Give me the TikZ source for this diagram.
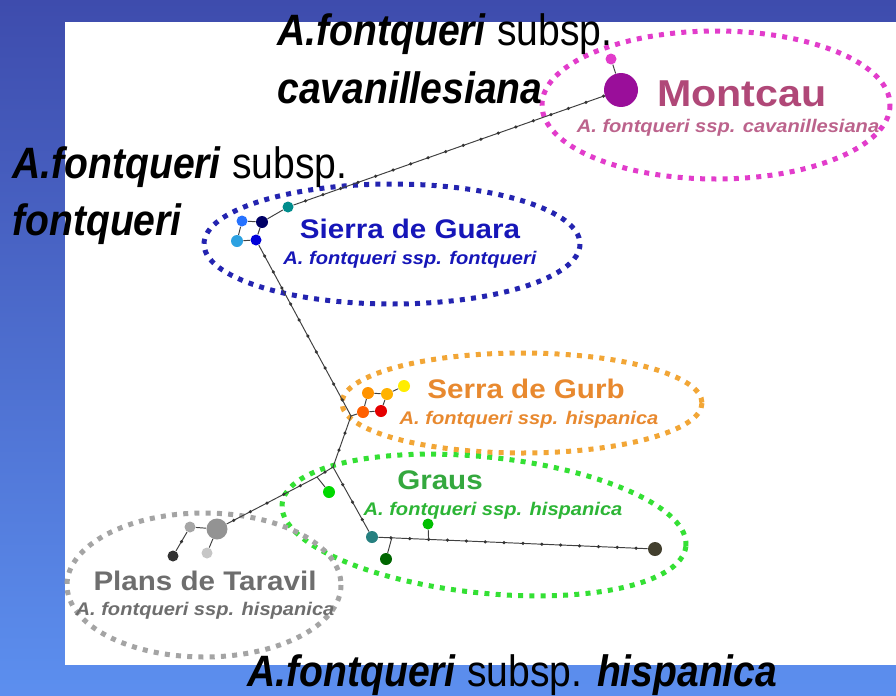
\documentclass[tikz,border=0pt]{standalone}
\usepackage{fontspec}
\setmainfont{Liberation Sans}
\newfontfamily\bigfont[FakeStretch=0.89]{Liberation Sans}
\newfontfamily\popfont[FakeStretch=1.1]{Liberation Sans}
\usetikzlibrary{calc}
\definecolor{bgtop}{HTML}{3E4CAD}
\definecolor{bgbot}{HTML}{5C8FEF}
\definecolor{montring}{HTML}{E23CCB}
\definecolor{montdot}{HTML}{9A0E9A}
\definecolor{monttext}{HTML}{B04878}
\definecolor{guararing}{HTML}{2424B0}
\definecolor{guaratext}{HTML}{1616B8}
\definecolor{gurbring}{HTML}{F2A636}
\definecolor{gurbtext}{HTML}{E8892F}
\definecolor{grausring}{HTML}{34E034}
\definecolor{graustext}{HTML}{34A83E}
\definecolor{plansring}{HTML}{A4A4A4}
\definecolor{planstext}{HTML}{6E6E6E}

\begin{document}
\begin{tikzpicture}
	[   x=0.02cm,y=-0.02cm,
		hap/.style={fill=#1,circle,inner sep=0pt,minimum size=2.2mm},
		ring/.style={draw=#1,line width=1mm,dash pattern=on 1mm off 1.25mm},
		popname/.style={text=#1,font=\popfont\bfseries\fontsize{15.3}{18}\selectfont,anchor=base,inner sep=0pt},
		popsub/.style={text=#1,font=\popfont\bfseries\itshape\fontsize{10.4}{12}\selectfont,anchor=base,inner sep=0pt},
		subsp/.style={font=\bigfont\fontsize{25}{30}\selectfont,anchor=base west,inner sep=0pt},
	]
	\tikzset{link/.style={draw=black!75,line width=0.55pt}}
	
	% background and slide
	\fill[top color=bgtop,bottom color=bgbot] (0,0) rectangle (896,695);
	\fill[white] (65,22) rectangle (896,665);
	
	% population rings
	\draw[ring=montring] (716,105) ellipse [x radius=174, y radius=74];
	\draw[ring=guararing] (392,244) ellipse [x radius=188, y radius=60];
	\draw[ring=gurbring] (522,403) ellipse [x radius=180, y radius=50];
	\draw[ring=grausring,rotate around={-6:(484,525)}] (484,525) ellipse [x radius=203, y radius=68];
	\draw[ring=plansring] (204,585) ellipse [x radius=137, y radius=72];
	
	% haplotypes
	\node[hap=montdot,minimum size=6.8mm] (mBig) at (621,90) {};
	\node[hap=montring] (mSmall) at (611,59) {};
	
	\node[hap=teal!90!cyan] (gTeal) at (288,207) {};
	\node[hap=blue!40!black,minimum size=2.4mm] (gNavy) at (262,222) {};
	\node[hap=blue!65!cyan!85!white] (gLight) at (242,221) {};
	\node[hap=cyan!80!blue!85!white,minimum size=2.4mm] (gCyan) at (237,241) {};
	\node[hap=blue!85!black] (gBlue) at (256,240) {};
	
	\node[hap=yellow!95!orange,minimum size=2.4mm] (sYel) at (404,386) {};
	\node[hap=orange!85!yellow,minimum size=2.4mm] (sLor) at (368,393) {};
	\node[hap=orange!60!yellow,minimum size=2.4mm] (sAmb) at (387,394) {};
	\node[hap=orange!75!red,minimum size=2.4mm] (sOred) at (363,412) {};
	\node[hap=red!90!black,minimum size=2.4mm] (sRed) at (381,411) {};
	
	\node[hap=green!85!black,minimum size=2.4mm] (grGreen) at (329,492) {};
	\node[hap=teal!70!gray,minimum size=2.4mm] (grTeal) at (372,537) {};
	\node[hap=green!40!black,minimum size=2.4mm] (grDark) at (386,559) {};
	\node[hap=green!75!black] (grMid) at (428,524) {};
	\node[hap=olive!30!black,minimum size=2.8mm] (grEnd) at (655,549) {};
	
	\node[hap=gray!85,minimum size=4.2mm] (pBig) at (217,529) {};
	\node[hap=gray!70] (pSmall) at (190,527) {};
	\node[hap=black!80] (pBlack) at (173,556) {};
	\node[hap=gray!45] (pLight) at (207,553) {};
	
	% median vectors
	\coordinate (jGurb) at (351,416);
	\coordinate (jA) at (333,467);
	\coordinate (jB) at (317,477);
	\coordinate (jC) at ($(grTeal)!0.07!(grEnd)$);
	\coordinate (jD) at ($(grTeal)!0.2!(grEnd)$);
	
	% branches with mutation steps
	\foreach \a/\b/\n in {mBig/gTeal/18,gBlue/jGurb/10,jGurb/jA/2,jA/jB/1,jB/pBig/5,jA/grTeal/3,grTeal/grEnd/14,pSmall/pBlack/1}
	{
		\path[link] (\a) -- (\b);
		\foreach \i in {1,...,\n}
			\fill[black!80] ($(\a)!{\i/(\n+1)}!(\b)$) circle[radius=0.35mm];
	}
	\foreach \a/\b in {mBig/mSmall,gTeal/gNavy,gNavy/gLight,gLight/gCyan,gCyan/gBlue,gBlue/gNavy,sLor/sAmb,sAmb/sYel,sLor/sOred,sAmb/sRed,sOred/sRed,sOred/jGurb,jB/grGreen,jC/grDark,jD/grMid,pSmall/pBig,pBig/pLight}
		\path[link] (\a) -- (\b);
	
	% population labels
	\node[popname=monttext,font=\popfont\bfseries\fontsize{21.3}{24}\selectfont] (mName) at (742,106) {Montcau};
	\node[popsub=monttext!85!white] (mSub) at (728,132) {A. fontqueri ssp. cavanillesiana};
	\node[popname=guaratext] (gName) at (410,238) {Sierra de Guara};
	\node[popsub=guaratext] (gSub) at (410,264) {A. fontqueri ssp. fontqueri};
	\node[popname=gurbtext] (sName) at (526,398) {Serra de Gurb};
	\node[popsub=gurbtext] (sSub) at (529,424) {A. fontqueri ssp. hispanica};
	\node[popname=graustext] (grName) at (440,489) {Graus};
	\node[popsub=graustext!85!green] (grSub) at (493,515) {A. fontqueri ssp. hispanica};
	\node[popname=planstext] (pName) at (205,590) {Plans de Taravil};
	\node[popsub=planstext] (pSub) at (205,615) {A. fontqueri ssp. hispanica};
	
	% subspecies captions
	\node[subsp] (cav1) at (277,45) {\textbf{\textit{A.fontqueri}} subsp.};
	\node[subsp] (cav2) at (277,103) {\textbf{\textit{cavanillesiana}}};
	\node[subsp] (fon1) at (12,178) {\textbf{\textit{A.fontqueri}} subsp.};
	\node[subsp] (fon2) at (12,235) {\textbf{\textit{fontqueri}}};
	\node[subsp] (his) at (247,686) {\textbf{\textit{A.fontqueri}} subsp. \textbf{\textit{hispanica}}};
\end{tikzpicture}
\end{document}
